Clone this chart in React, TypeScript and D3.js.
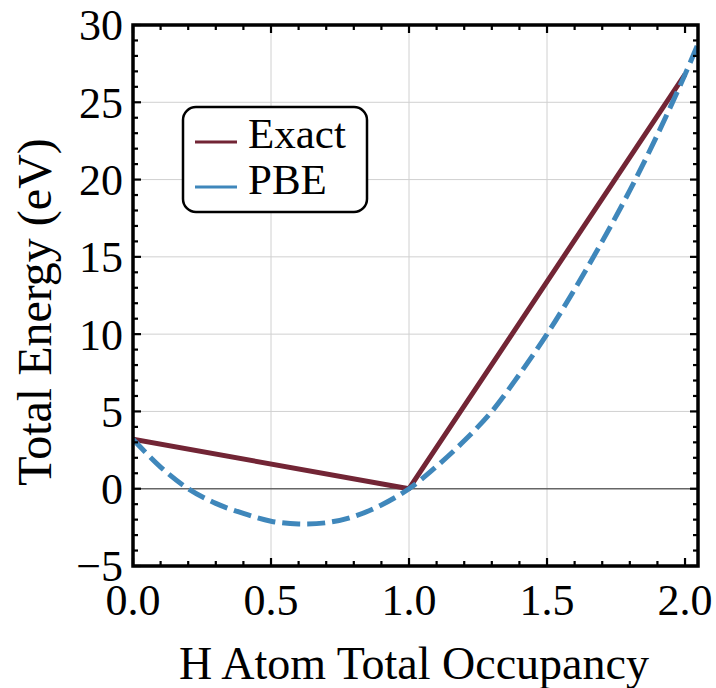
import React from "react";
import * as d3 from "d3";

const exactX = [0, 1, 2];
const exactY = [3.2, 0, 26.8];

const pbeX = [0, 0.1, 0.2, 0.3, 0.4, 0.5, 0.6, 0.7, 0.8, 0.9, 1.0, 1.1, 1.2, 1.3, 1.4, 1.5, 1.6, 1.7, 1.8, 1.9, 2.0, 2.05];
const pbeY = [3.2, 1.4, 0.0, -0.95, -1.6, -2.1, -2.28, -2.2, -1.8, -1.05, 0, 1.45, 3.1, 5.0, 7.4, 10.0, 12.9, 16.0, 19.3, 22.9, 26.8, 28.9];

const xMajor = [0, 0.5, 1.0, 1.5, 2.0];
const xMajorLabels = ["0.0", "0.5", "1.0", "1.5", "2.0"];
const yMajor = [-5, 0, 5, 10, 15, 20, 25, 30];
const yMajorLabels = ["\u22125", "0", "5", "10", "15", "20", "25", "30"];

const seriesNames = ["Exact", "PBE"];
const seriesColors = ["#722535", "#3f87bb"];

const W = 716;
const H = 688;
const L = 133, R = 698, T = 25, B = 566;

export default function App() {
  const x = d3.scaleLinear().domain([0, 2.047]).range([L, R]);
  const y = d3.scaleLinear().domain([-5, 30]).range([B, T]);

  const xMinor = d3.range(0, 2.0001, 0.1).filter((v) => !xMajor.some((m) => Math.abs(m - v) < 1e-6));
  const yMinor = d3.range(-5, 30.0001, 1).filter((v) => !yMajor.some((m) => Math.abs(m - v) < 1e-6));

  const line = d3.line<[number, number]>().x((d) => x(d[0])).y((d) => y(d[1]));
  const smooth = d3.line<[number, number]>().x((d) => x(d[0])).y((d) => y(d[1])).curve(d3.curveCatmullRom.alpha(0.5));

  const exactPts: [number, number][] = exactX.map((v, i) => [v, exactY[i]]);
  const pbePts: [number, number][] = pbeX.map((v, i) => [v, pbeY[i]]);

  const font = "'Liberation Serif', 'Times New Roman', serif";
  const majorLen = 8, minorLen = 5;

  return (
    <svg width={W} height={H} style={{ position: "absolute", left: 0, top: 0 }} fontFamily={font}>
      <defs>
        <clipPath id="plotclip">
          <rect x={L} y={T} width={R - L} height={B - T} />
        </clipPath>
      </defs>
      <rect x={0} y={0} width={W} height={H} fill="#fff" />
      {/* grid */}
      {xMajor.filter((v) => v > 0 && v < 2).map((v) => (
        <line key={"gx" + v} x1={x(v)} x2={x(v)} y1={T} y2={B} stroke="#d0d0d0" strokeWidth={1} />
      ))}
      {yMajor.filter((v) => v > -5 && v < 30 && v !== 0).map((v) => (
        <line key={"gy" + v} x1={L} x2={R} y1={y(v)} y2={y(v)} stroke="#d0d0d0" strokeWidth={1} />
      ))}
      <line x1={L} x2={R} y1={y(0)} y2={y(0)} stroke="#666" strokeWidth={1.6} />

      <g clipPath="url(#plotclip)">
        <path d={line(exactPts) || ""} fill="none" stroke={seriesColors[0]} strokeWidth={5} strokeLinejoin="round" />
        <path d={smooth(pbePts) || ""} fill="none" stroke={seriesColors[1]} strokeWidth={5} strokeDasharray="18 7" />
      </g>

      {/* ticks */}
      <g stroke="#000" strokeWidth={2.2}>
        {xMajor.map((v) => (
          <g key={"tx" + v}>
            <line x1={x(v)} x2={x(v)} y1={B} y2={B - majorLen} />
            <line x1={x(v)} x2={x(v)} y1={T} y2={T + majorLen} />
          </g>
        ))}
        {xMinor.map((v) => (
          <g key={"mx" + v}>
            <line x1={x(v)} x2={x(v)} y1={B} y2={B - minorLen} />
            <line x1={x(v)} x2={x(v)} y1={T} y2={T + minorLen} />
          </g>
        ))}
        {yMajor.map((v) => (
          <g key={"ty" + v}>
            <line x1={L} x2={L + majorLen} y1={y(v)} y2={y(v)} />
            <line x1={R} x2={R - majorLen} y1={y(v)} y2={y(v)} />
          </g>
        ))}
        {yMinor.map((v) => (
          <g key={"my" + v}>
            <line x1={L} x2={L + minorLen} y1={y(v)} y2={y(v)} />
            <line x1={R} x2={R - minorLen} y1={y(v)} y2={y(v)} />
          </g>
        ))}
      </g>
      <rect x={L} y={T} width={R - L} height={B - T} fill="none" stroke="#000" strokeWidth={3.5} />

      {/* tick labels */}
      {xMajor.map((v, i) => (
        <text key={"lx" + v} x={x(v)} y={615} textAnchor="middle" fontSize={44} fill="#000">
          {xMajorLabels[i]}
        </text>
      ))}
      {yMajor.map((v, i) => (
        <text key={"ly" + v} x={123} y={y(v)} dy="0.35em" textAnchor="end" fontSize={44} fill="#000">
          {yMajorLabels[i]}
        </text>
      ))}

      {/* axis titles */}
      <text x={414} y={679} textAnchor="middle" fontSize={46} fill="#000">
        H Atom Total Occupancy
      </text>
      <text transform="translate(51,312) rotate(-90)" textAnchor="middle" fontSize={48} fill="#000">
        Total Energy (eV)
      </text>

      {/* legend */}
      <rect x={183} y={107} width={184} height={105} rx={13} ry={13} fill="#fff" stroke="#000" strokeWidth={2.5} />
      {seriesNames.map((n, i) => (
        <g key={n}>
          <line x1={195} x2={237} y1={142 + i * 45} y2={142 + i * 45} stroke={seriesColors[i]} strokeWidth={3} />
          <text x={248} y={148 + i * 46} fontSize={43} fill="#000">
            {n}
          </text>
        </g>
      ))}
    </svg>
  );
}
